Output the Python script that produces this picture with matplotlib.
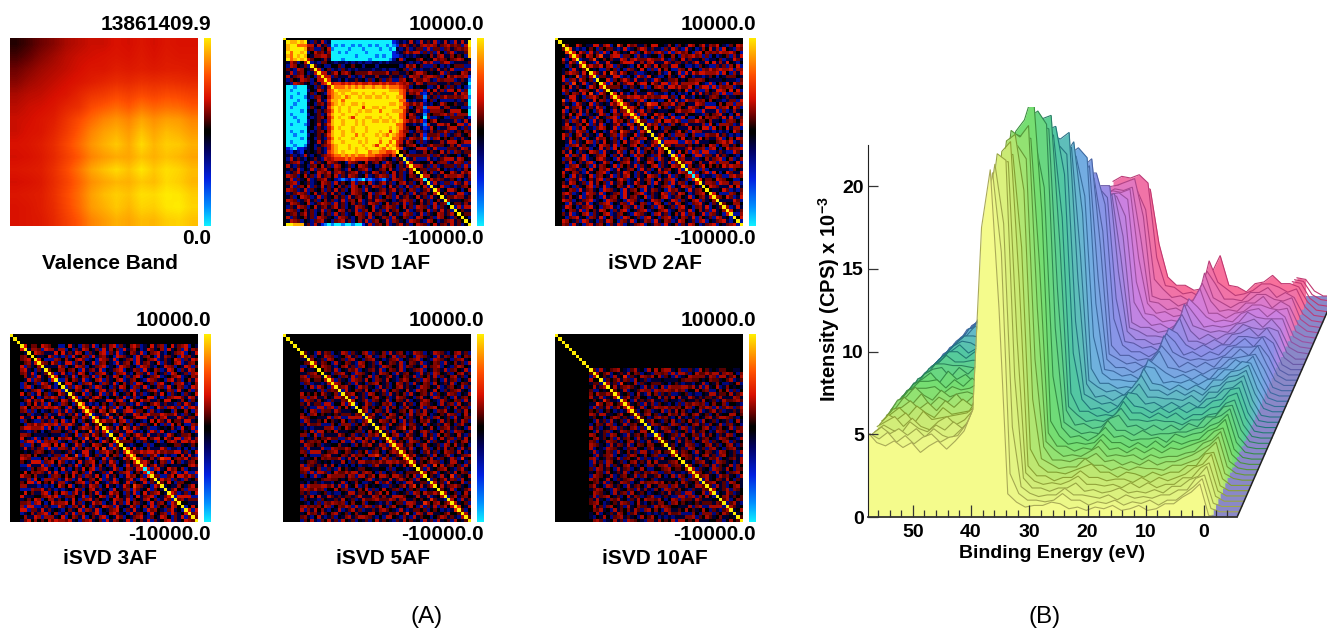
import numpy as np
import matplotlib
matplotlib.use("Agg")
import matplotlib.pyplot as plt
from matplotlib.colors import LinearSegmentedColormap

plt.rcParams['font.family'] = ['Liberation Sans', 'DejaVu Sans']
plt.rcParams['mathtext.fontset'] = 'custom'
plt.rcParams['mathtext.bf'] = 'Liberation Sans:bold'
plt.rcParams['mathtext.rm'] = 'Liberation Sans'

W, H = 1327, 630

# panel texts
panel_titles = ["Valence Band", "iSVD 1AF", "iSVD 2AF", "iSVD 3AF", "iSVD 5AF", "iSVD 10AF"]
panel_max = ["13861409.9", "10000.0", "10000.0", "10000.0", "10000.0", "10000.0"]
panel_min = ["0.0", "-10000.0", "-10000.0", "-10000.0", "-10000.0", "-10000.0"]

# valence band covariance, millions, hand read on a coarse 15x15 grid
valence = [
    [7.4, 7.7, 8.1, 8.4, 8.8, 9.0, 9.2, 9.2, 9.4, 9.3, 9.5, 9.3, 9.5, 9.4, 9.4],
    [7.7, 8.0, 8.4, 8.7, 9.0, 9.2, 9.3, 9.4, 9.5, 9.4, 9.6, 9.4, 9.6, 9.5, 9.5],
    [8.1, 8.4, 8.7, 8.9, 9.1, 9.3, 9.5, 9.5, 9.7, 9.6, 9.7, 9.6, 9.7, 9.7, 9.6],
    [8.4, 8.7, 8.9, 9.1, 9.3, 9.5, 9.7, 9.9, 10.1, 10.0, 10.2, 10.1, 10.2, 10.1, 10.0],
    [8.8, 9.0, 9.1, 9.3, 9.5, 9.9, 10.3, 10.5, 10.8, 10.6, 10.9, 10.7, 10.9, 10.8, 10.6],
    [9.0, 9.2, 9.3, 9.5, 9.9, 10.2, 10.9, 11.2, 11.5, 11.2, 11.7, 11.4, 11.6, 11.5, 11.2],
    [9.2, 9.3, 9.5, 9.7, 10.3, 10.9, 11.5, 12.0, 12.3, 12.0, 12.6, 12.2, 12.5, 12.4, 12.0],
    [9.2, 9.4, 9.5, 9.9, 10.5, 11.2, 12.0, 12.5, 12.8, 12.4, 13.1, 12.6, 13.0, 12.8, 12.4],
    [9.4, 9.5, 9.7, 10.1, 10.8, 11.5, 12.3, 12.8, 13.2, 12.7, 13.5, 12.9, 13.3, 13.2, 12.8],
    [9.3, 9.4, 9.6, 10.0, 10.6, 11.2, 12.0, 12.4, 12.7, 12.6, 13.1, 12.8, 13.1, 12.9, 12.6],
    [9.5, 9.6, 9.7, 10.2, 10.9, 11.7, 12.6, 13.1, 13.5, 13.1, 13.7, 13.2, 13.6, 13.4, 13.0],
    [9.3, 9.4, 9.6, 10.1, 10.7, 11.4, 12.2, 12.6, 12.9, 12.8, 13.2, 13.0, 13.5, 13.3, 12.9],
    [9.5, 9.6, 9.7, 10.2, 10.9, 11.6, 12.5, 13.0, 13.3, 13.1, 13.6, 13.5, 13.8, 13.7, 13.3],
    [9.4, 9.5, 9.7, 10.1, 10.8, 11.5, 12.4, 12.8, 13.2, 12.9, 13.4, 13.3, 13.7, 13.8, 13.4],
    [9.4, 9.5, 9.6, 10.0, 10.6, 11.2, 12.0, 12.4, 12.8, 12.6, 13.0, 12.9, 13.3, 13.4, 13.1],
]

# residual maps as lower triangles (symmetric, 55 cells). one character per cell.
# overall look typed by eye, the single cells are not a cell by cell reading
cell_codes = {'0': 0, '1': .15, '2': .3, '3': .45, '4': .65, '5': .85, '6': 1,
              'c': .22, 'a': -.13, 'b': -.3, 'f': -.5, 'd': -.75, 'e': -1}

residual_1af = [
    "0", "05", "056", "0646", "05465", "064565", "0a21b02", "0b2c0a1b", "01ab2c0a1", "0a2b1c0ba2",
    "02a1c2a10b2", "0b10a2c1b022", "0ab2c1a0b1a23",
    "0eedeeea0b1ba2", "0edeeeeb0a21a34", "0eeedeea1b0ab345", "0edeeedab1ca02455", "0eeedeeb0a2ab35564",
    "0eedeeea0b1ca245656", "0edeeeeb1a0ba3565665", "0eeeedea0b1a124656656", "0edeeeeb0a1ba356656665",
    "0eedeeeaba1c02465665366", "0eeedeeb0a1ab25665666565", "0edeeedb0a2a1356656665656",
    "0eeeeeea0b1ab2465666566656", "0edeedeaba1c025665665666566", "0eedeeeb0a1a1356656664656665",
    "0eeeedea0b1ab2465666566656665", "0edeeeeb0a2a135665666656566646",
    "0eedeeda0ba1c245666566656653664", "0fdeffba0b1ab2456665656656665465",
    "0bfabf0a0a1ab34565666566645544334", "0a1bab2ab0a1c234454545445443322130",
    "0b2a1ab0a1ab2c2333434333322c21a0b1a",
    "0a1c2b0a2b1a02c1a0b2c1a02a1c0b21a0cb", "02ab1a0b1c02a1b2c0a1b02c1a0ba21c0b1a2",
    "0a1a2b0a2b1c2a0c1ab20a1c2b0a1c02ab1ca2", "0ba12a1b0a2c12ac21a1c2ab1a2ca1b02a1ba20",
    "02c1b02a1b2a1c02b1a2c1a02ba12c1b2a1b0c1a",
    "0a2b1a02ba1c2a0bfdfbdfdefdfbfdba2c1b0a1c2",
    "01c2b0a1ba02c1b2a10a2b1c02ba12a1b0c2a1b02a", "0a2b1c02b1a2a1b0ca1b2c0b1a2c1b02a1ba2b1c02b",
    "02c1ba2b1a0cb1a2a1b02c1b2a0a1ca12a1b0c1ba12a", "0ba12c1b02a1ca2a1b0a2c1a02b1c2a1b0ca1b2a1ca02",
    "0a1b02c1ba2b1a0ca1b2a1c0a2a1b0c1b2a1ca02a1b2a0", "02c1ba12a1b0ca1ba2b1c02ba1a2c1a0ba12c1b02a1b0ca",
    "0a2c1a02ba12c1b2a1b0ca1ba2c1b02a1ca2b1a0ca1b2a1c", "0b1a2c1b02a1ca12a1b0a2c1a02ba12c1b02a1b2c1ba2b1a0",
    "02c1b0ca1ba2b1a02ca1a2b1c02a1b2a1c0a2ba1c02b1a2a1b", "0a1ca12a1b0ca1b2a1ba02c1b2a1ca02a1b2c1ba2b1a02ca12",
    "02b1a0ca1b2c1a0b2c1ab0c1a2b0ac1b2a0c1ba2c0a1b2c0ab1", "0a2c1b0ab1c2a0b1c2a1b0ca2b1c0a2bc1a0b2c1ab2c0ba1c2a1",
    "066555a1b2afdedeedeedeefa2b1c02ba12a1b02c1b02a1ca2a1b",
]

residual_noise = [
    "1", "a2", "0b1", "2a03", "b10a2", "1a2b02", "0c1a21b", "a20b10a2", "21a0b2a01", "b0a12c1a20",
    "1b20a03b1a2", "a02b1ca2101b", "20a1b30a2ba10", "b1c02a1a0b2102", "0a21ba02c10a2b1", "a2b10c1a203ab210",
    "1b0a22a0b1c2101a2", "0a3b12a01ba20c1b02", "2c1a0b21a02b1a0a213", "ab02a1c20b1a21b0a102",
    "1a2b01a2ac0b12a0b2a1c", "b01a20c2b1a0a21b0c1a22", "a2c01b2a0a1b20a1c2b01a2", "02a1bc1a20b2a10ba21c01b3",
    "1ba20a1c02b1a2b0a12ab2c01", "a01c2b1a20ab12c0a2b10a2b1a", "2b0a1a2c1b02a0ba2103c1a0b21",
    "0a21b0c2a1a0b20a1cb21a02b10a", "b12ac01a2b0a21c0b1a2b02a1c20a", "1c0a2b1a02cb1a20a1b02a1c2b0a12",
    "a20b1c2a10ab02c1a2b10ac201ba21b", "02a1b0a21cb0a2a1b20c1a0b2a1c0b21", "b1ca20b1a02c1b2a0a21b0ca2b101a2c0",
    "1a02bc1a2b0a1c20b1a2a0b21c0ab12a0b", "a2b1c0a12ba0c21a0b2a1c0b2a01cb21a02", "0c1a2b01ac2b0a21b0a1c2ab10a2c0b1a2b1",
    "2a0b1c2a01b2ac10a2bc01a2b1a0c2b1a02c1", "b0a2c1a1b02a0c12ba20a1c0b2a1b02a1c0a2b", "1b2a0c1ab2a01c2b0a1a2c0b1a2b0ac12b0a2c1",
    "a1c0b2a1a02b1c0a2b1ac20b1a02c1b0a2b1a0c2", "2a0bc1a2b01ac2b1a0c21ba02a1cb02a1c2b0a1b2", "0b1a2c0a1b2ac01b2a1c0ba21a0cb2a01b2ac1b0a2",
    "1a2c0b1a0c2b1a2ba0c1a2b01c2ab0a1c2b0a2c1b0a", "b2a0c1b2a1ca0b2c1a0b2a1c0b2ac1a0b21ca0b2a1c0", "a0c21ba0b2c1a2b0a1cb2a01c2ba1a02cb1a2c0ba1c20",
    "2b1ac0a2b1c0ab2a1c0b2a1ca02b1a0c2ba1c0a2b01ca2", "0a2c1b0a1c2ba0b2c1a0b2c1ab0a2c1b0a2cb1a0c2b1a0c", "1c0b2a1ca2b0a1c2b0ac1b2a0c1ba2c0b1a2c0ab1c2a0b1a",
    "b1a2c0ba1c2a0b1c2ab0c1a2bc0a1b2c0a1bc2a0b1ca2b0a1", "a2b0c1a2bc01a2c0b1ac2b0a1c2ba01c2ba0c1a2b0ca1b2a0c", "0c1a2ba0c2b1a0c2ba1c0ab2c1a0bc2a1b0ca2b1c0a2bc1a0b2",
    "2a0b1c2a0bc1a2b0ca1b2c0a1bc2a0b1c2ab0c1a2bc0a1b2ca0b", "1b2c0a1b2ca0b1a2c0bc1a2b0ac1b2a0c1ba2c0a1bc2b0a1c2ab0", "a0c1b2a0bc2a1c0b1a2cb0a1c2b0ac1b2a0cb1a2c0ba1c2b0a1c2b",
]

# diagonal cells that are not yellow
cyan_diagonal = {1: [41, 48], 2: [39, 40], 3: [39, 40], 4: [], 5: []}

# black band width in cells, how far the typed residual is moved, colour strength
band_cells = [2, 3, 5, 10]
noise_shift = [0, 17, 0, 29]
noise_turned = [False, False, True, True]
panel_gain = [1.1, 1.1, .95, .9]

# panel positions in pixels: left, top of the map
panel_left = [10, 283, 555, 10, 283, 555]
panel_top = [38, 38, 38, 334, 334, 334]

# spectra: energies (eV) and intensity in tenths of 10^3 CPS, front series first.
# a row can be short, it then starts further right; what it skips is hidden anyway.
energies = [57.7, 56.2, 54.7, 53.2, 51.7, 50.2, 48.7, 47.2, 45.7, 44.2, 42.7, 41.2, 39.7, 38.2, 36.7,
            35.2, 33.7, 32.2, 30.7, 29.2, 27.7, 26.2, 24.7, 23.2, 21.7, 20.2, 18.7, 17.2, 15.7, 14.2,
            12.7, 11.2, 9.7, 8.2, 6.7, 5.2, 3.7, 2.2, .7, -.8, -2.3, -3.8, -5.7]
spectra = [
    [51,45,43,46,42,45,39,43,46,41,46,52,65,175,210,126,14,9,6,7,7,9,8,5,6,4,6,5,7,4,5,7,4,5,8,8,12,15,20,1,0,0,0],
    [47,44,48,42,46,41,45,47,42,45,46,53,64,170,205,157,23,11,7,7,6,7,11,7,7,4,6,5,7,4,6,5,7,4,7,7,11,15,20,2,0,0,0],
    [44,48,44,47,43,47,42,47,43,41,46,51,66,172,207,171,48,12,8,6,7,7,11,7,7,6,5,7,4,7,5,6,5,7,7,10,10,17,19,2,0,0,0],
    [42,46,43,41,48,44,42,46,43,48,44,50,62,168,210,206,75,14,8,8,6,8,8,11,6,7,5,6,8,5,6,5,7,5,9,9,13,15,21,3,0,0,0],
    [42,45,48,42,47,42,40,45,48,43,46,52,60,165,202,202,96,14,9,7,8,7,9,12,7,7,6,7,5,8,5,8,5,7,7,11,11,17,20,3,0,0,0],
    [40,46,43,47,41,48,43,44,45,46,47,51,58,160,205,211,125,15,9,9,6,8,8,12,8,8,6,7,7,5,8,5,8,6,8,10,14,16,22,3,0,0,0],
    [39,43,47,42,48,44,41,47,43,44,45,53,60,158,200,200,144,22,12,8,8,7,9,11,13,8,8,5,8,7,5,8,6,8,8,12,12,19,20,4,0,0,0],
    [37,43,44,48,43,47,42,48,44,49,45,52,57,160,205,209,175,49,13,10,7,8,8,13,9,9,6,8,6,8,7,7,6,9,9,11,13,18,23,4,1,0,0],
    [36,40,47,43,49,42,47,44,49,43,48,54,55,155,198,199,191,70,17,9,9,8,10,10,13,8,9,6,8,6,9,6,8,8,10,12,15,18,23,5,1,0,0],
    [34,42,44,50,45,42,48,44,46,47,45,52,58,158,205,201,208,98,17,12,8,9,8,11,14,8,9,8,9,6,9,7,8,8,10,11,16,18,23,5,1,0,0],
    [33,38,45,46,46,47,43,47,45,46,49,53,56,150,200,198,197,120,19,11,11,8,10,9,15,9,10,7,10,7,10,7,10,9,11,13,15,20,22,6,1,0,0],
    [31,38,42,47,47,48,43,48,44,49,45,54,55,152,198,205,222,149,23,14,9,10,9,10,15,10,10,7,10,7,11,7,11,9,11,12,17,19,24,6,1,0,0],
    [30,35,42,45,49,43,50,45,48,43,49,52,54,150,190,195,188,161,47,16,10,11,8,11,16,10,11,8,9,9,10,7,12,10,12,13,17,19,24,7,1,0,0],
    [27,35,38,45,48,49,43,49,45,50,46,53,56,148,188,200,204,196,73,16,12,9,10,9,17,11,11,8,11,8,9,9,10,10,12,13,18,20,24,7,1,0,0],
    [26,30,39,41,48,48,47,47,46,45,50,54,55,145,186,188,192,190,92,20,11,12,9,10,15,17,10,11,8,11,8,11,8,12,10,16,16,22,23,8,1,0,0],
    [25,31,34,42,45,50,46,46,47,47,47,52,55,145,185,190,193,195,117,19,14,10,11,10,13,18,11,11,10,11,10,10,8,11,11,14,15,21,23,8,1,0,0],
    [22,30,32,40,43,49,49,45,49,46,50,53,54,140,180,182,178,180,130,24,13,13,10,11,10,19,12,12,9,12,9,12,8,11,11,15,16,22,24,9,1,0,0],
    [21,26,33,37,43,46,50,45,48,44,49,52,52,135,175,178,180,182,153,45,17,11,12,9,12,19,13,12,9,12,9,12,9,12,12,16,17,23,24,9,1,0,0],
    [19,26,30,36,40,46,49,48,45,49,46,50,50,130,172,170,166,168,162,61,17,14,11,12,9,18,17,11,12,9,12,9,12,9,14,15,20,21,25,10,1,0,0],
    [18,22,29,34,39,44,49,49,48,45,49,51,52,130,168,165,170,168,172,84,20,12,13,10,13,14,20,12,12,11,11,10,13,9,15,15,21,22,25,10,1,0,0],
    [16,22,26,32,36,43,46,52,45,49,46,50,50,125,160,158,162,156,160,97,19,15,12,13,10,15,22,13,13,10,13,10,13,10,15,16,21,22,25,11,2,0,0],
    [14,19,25,30,36,39,47,48,48,45,49,50,48,120,155,155,158,152,160,117,23,14,14,11,12,11,23,14,13,10,13,10,13,10,16,16,21,22,25,11,2,0,0],
    [12,18,23,29,33,39,44,49,49,48,47,50,47,115,150,150,146,152,148,124,39,17,13,13,12,12,21,20,11,12,11,13,10,13,14,19,19,24,23,12,2,0,0],
    [10,15,22,26,33,37,43,47,50,46,47,49,46,115,150,148,152,146,150,144,56,16,15,12,13,10,22,18,14,11,13,10,13,10,16,17,22,19,24,12,2,0,0],
    [9,15,18,26,29,37,39,47,48,49,46,49,45,110,135,132,138,134,130,136,68,19,14,14,11,14,17,24,14,13,11,13,10,13,14,19,20,21,22,13,2,0,0],
    [7,11,19,22,29,32,40,43,49,46,47,48,44,105,130,134,130,135,132,137,84,19,16,13,14,11,17,24,18,11,14,11,14,11,17,17,22,18,24,13,3,0,0],
    [5,11,15,22,25,33,36,43,46,47,44,47,42,100,120,120,124,118,125,122,90,21,15,15,12,13,12,27,17,14,12,13,12,13,15,20,20,20,21,14,3,0,0],
    [122,122,103,34,18,14,14,11,14,25,20,12,14,11,14,12,17,18,22,17,23,13,3,0,0],
    [108,110,104,43,17,16,13,14,11,25,22,15,12,15,12,15,15,20,20,19,20,16,3,0,0],
    [106,108,108,56,20,15,15,12,13,19,28,14,14,12,15,12,18,19,22,17,22,14,4,0,0],
    [97,99,99,62,19,17,14,14,13,19,27,17,12,15,12,15,16,21,19,18,19,17,4,0,0],
    [92,95,97,71,19,16,16,13,14,13,30,17,15,13,14,13,18,19,21,16,21,15,4,1,0],
    [90,94,92,80,28,19,14,15,12,15,27,20,13,14,13,14,16,22,19,18,18,18,4,1,0],
    [88,90,91,87,37,18,17,13,14,13,27,22,16,13,14,13,18,20,21,16,20,16,4,1,0],
    [86,89,88,90,48,21,15,16,13,14,21,30,15,15,12,15,16,20,20,18,17,18,4,1,0],
    [84,87,86,88,56,19,18,14,15,12,19,30,19,13,14,13,18,18,22,15,19,16,5,1,0],
    [85,86,88,90,67,19,17,17,13,15,12,33,18,15,12,15,16,20,20,17,16,18,5,1,0],
    [80,83,82,80,68,26,20,15,16,13,14,31,23,14,14,13,18,18,21,15,18,15,5,1,0],
    [82,85,84,86,81,36,19,18,14,15,12,34,21,17,13,14,16,20,20,18,15,17,6,1,0],
    [76,78,78,76,74,41,21,16,16,13,14,23,34,16,15,12,17,18,22,17,17,15,6,1,0],
    [15,14,5,1,0],
    [13,12,4,1,0],
    [11,10,3,0,0],
]
x_major = [50, 40, 30, 20, 10, 0]
y_major = [0, 5, 10, 15, 20]

# colours
map_colours = [(0, '#10f0ff'), (.1, '#0090ff'), (.25, '#0020e0'), (.4, '#000060'), (.49, '#000000'),
               (.51, '#000000'), (.575, '#600000'), (.675, '#d81000'), (.8, '#ff5000'), (.925, '#ffb000'),
               (1, '#ffee00')]
fill_colours = ['#f4fb8c', '#c4e872', '#74de72', '#52c8a0', '#70b0e0', '#8c90e8', '#d080e0', '#f8709c']
line_colours = ['#aaaa58', '#88a030', '#3a9040', '#207878', '#3a6ca0', '#5a5aa8', '#a050a0', '#c03870']

map_cmap = LinearSegmentedColormap.from_list('map', map_colours)
fill_cmap = LinearSegmentedColormap.from_list('fills', fill_colours)
line_cmap = LinearSegmentedColormap.from_list('lines', line_colours)


def px_axes(left, top, right, bottom):
    return fig.add_axes([left / W, 1 - bottom / H, (right - left) / W, (bottom - top) / H])


def px_text(x, y, text, **kwargs):
    fig.text(x / W, 1 - y / H, text, va='center', **kwargs)


def triangle_to_map(rows):
    n = 55
    out = np.zeros((n, n))
    for i, row in enumerate(rows):
        for j, ch in enumerate((row * 3)[:i + 1]):
            out[i + 1, j] = cell_codes[ch]
            out[j, i + 1] = cell_codes[ch]
    return out


def residual_panels():
    maps = [triangle_to_map(residual_1af)]
    noise = triangle_to_map(residual_noise)
    for k in range(4):
        m = np.roll(noise, noise_shift[k], axis=(0, 1))
        if noise_turned[k]:
            m = m[::-1, ::-1]
        m = m * panel_gain[k]
        m[:band_cells[k], :] = 0
        m[:, :band_cells[k]] = 0
        maps.append(m)
    for k, m in enumerate(maps):
        np.fill_diagonal(m, 1)
        for c in cyan_diagonal[k + 1]:
            m[c, c] = -1
    return maps


fig = plt.figure(figsize=(W / 100, H / 100), dpi=100)

maps = residual_panels()
gradient = np.linspace(1, -1, 256)[:, None]
for p in range(6):
    left, top = panel_left[p], panel_top[p]
    ax = px_axes(left, top, left + 188, top + 188)
    if p == 0:
        scaled = np.array(valence) / 13.8614099 * 2 - 1
        ax.imshow(scaled, cmap=map_cmap, vmin=-1, vmax=1, aspect='auto', interpolation='bilinear')
    else:
        ax.imshow(maps[p - 1], cmap=map_cmap, vmin=-1, vmax=1, aspect='auto', interpolation='nearest')
    ax.axis('off')
    bar = px_axes(left + 194, top, left + 201, top + 188)
    bar.imshow(gradient, cmap=map_cmap, vmin=-1, vmax=1, aspect='auto')
    bar.axis('off')
    px_text(left + 201, top - 13, panel_max[p], ha='right', fontsize=15, fontweight='bold')
    px_text(left + 201, top + 200, panel_min[p], ha='right', fontsize=15, fontweight='bold')
    px_text(left + 100, top + 225, panel_titles[p], ha='center', fontsize=15, fontweight='bold')

px_text(427, 617, "(A)", ha='center', fontsize=17.5)
px_text(1045, 617, "(B)", ha='center', fontsize=17.5)

# waterfall
ax = px_axes(868, 106.6, 1327, 517)
ax.set_xlim(57.7, -21.13)
ax.set_ylim(0, 24.8)
ax.patch.set_alpha(0)
ax.set_axisbelow(False)

energies = np.array(energies)
n_series = len(spectra)
shift_x = .397
shift_y = .318
tail_from = -.8

# slate floor right of the fermi edge, sheared like the series
tail_x = [tail_from, energies[-1], energies[-1] - (n_series - 1) * shift_x, tail_from - (n_series - 1) * shift_x]
tail_y = [0, 0, (n_series - 1) * shift_y, (n_series - 1) * shift_y]
ax.fill(tail_x, tail_y, color='#8a88c8', lw=0, zorder=.5)

for j in range(n_series - 1, -1, -1):
    values = np.array(spectra[j]) / 10
    x = energies[-len(values):] - j * shift_x
    y = values + j * shift_y
    frac = min(j / 39, 1.0)
    z = 1 + (n_series - j) * .02
    base = max(j * shift_y - 1.5 * shift_y, 0)
    keep = energies[-len(values):] >= tail_from
    ax.fill_between(x[keep], y[keep], base, color=fill_cmap(frac), lw=0, zorder=z)
    ax.plot(x, y, color=line_cmap(frac), lw=.8, zorder=z + .001, solid_joinstyle='miter')

# black right hand edge of the floor
ax.plot([energies[-1], energies[-1] - (n_series - 1) * shift_x], [0, (n_series - 1) * shift_y],
        color='#222222', lw=1.1, zorder=2.3)

for side in ['top', 'right']:
    ax.spines[side].set_visible(False)
ax.spines['left'].set_bounds(0, 22.5)
ax.spines['bottom'].set_bounds(57.7, energies[-1])
ax.spines['left'].set_color('#222222')
ax.spines['bottom'].set_color('#333333')
ax.spines['bottom'].set_linewidth(1.3)
ax.set_xticks(x_major)
ax.set_xticks(np.arange(-4, 57, 2), minor=True)
ax.set_yticks(y_major)
ax.tick_params(axis='x', which='major', direction='in', length=9, width=.9, color='#333333',
               labelsize=14, pad=5)
ax.tick_params(axis='x', which='minor', direction='in', length=5, width=.9, color='#333333')
ax.tick_params(axis='y', which='major', direction='in', length=7, width=.9, color='#333333',
               labelsize=14, pad=3)
for label in ax.get_xticklabels() + ax.get_yticklabels():
    label.set_fontweight('bold')

px_text(1052, 553, "Binding Energy (eV)", ha='center', fontsize=14, fontweight='bold')
px_text(829, 299, r"Intensity (CPS) x 10$^{\mathbf{-3}}$", ha='center', rotation=90, fontsize=14.5,
        fontweight='bold')

fig.savefig('out.png', dpi=100)
